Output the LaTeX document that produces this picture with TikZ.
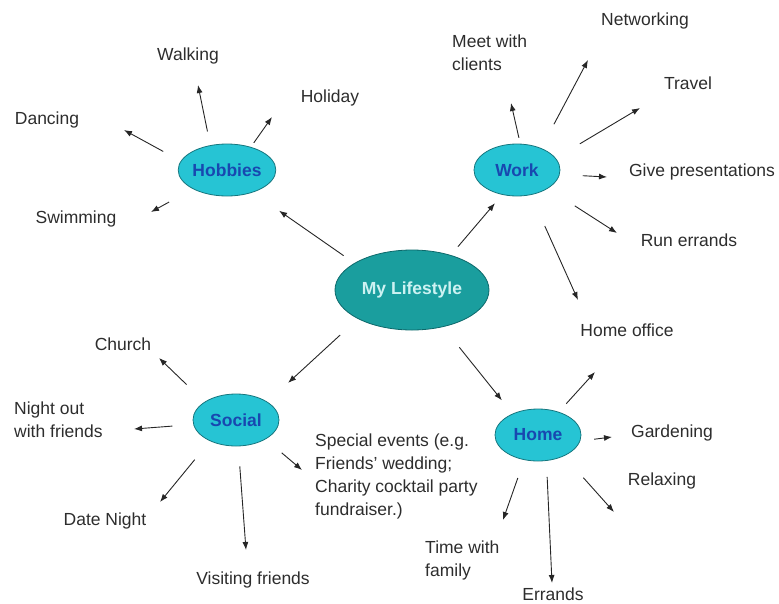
\documentclass[tikz,border=0pt]{standalone}
\usepackage{fontspec}
\setmainfont{Liberation Sans}
\usetikzlibrary{arrows.meta, shapes.geometric}

\definecolor{hubfill}{RGB}{26,158,158}
\definecolor{hubline}{RGB}{12,104,106}
\definecolor{hubtext}{RGB}{205,242,242}
\definecolor{topicfill}{RGB}{38,196,212}
\definecolor{topicline}{RGB}{22,118,126}
\definecolor{topictext}{RGB}{24,72,176}
\definecolor{labeltext}{RGB}{45,45,45}

\tikzset{
  hub/.style={ellipse, draw=hubline, fill=hubfill, line width=0.8pt, inner sep=0pt,
    minimum width=154pt, minimum height=80pt, text=hubtext,
    font=\bfseries\fontsize{17.5}{20}\selectfont},
  topic/.style={ellipse, draw=topicline, fill=topicfill, line width=0.8pt, inner sep=0pt,
    minimum width=86pt, minimum height=52pt, text=topictext,
    font=\bfseries\fontsize{17.5}{20}\selectfont},
  lbl/.style={inner sep=0pt, text=labeltext, font=\fontsize{17.5}{23}\selectfont},
  arr/.style={-{Latex[length=8pt,width=6pt]}, line width=0.9pt, draw=black!85},
}

\begin{document}
\begin{tikzpicture}[x=1pt, y=-1pt]
    \useasboundingbox (0,0) rectangle (779,603);

    % Centre and the four topics
    \node[hub] (life) at (412,290) {My Lifestyle};
    \node[topic] (hobbies) at (227,170) {Hobbies};
    \node[topic] (work) at (517,170) {Work};
    \node[topic] (social) at (236,420) {Social};
    \node[topic] (home) at (538,435) {Home};

    % Hobbies labels
    \node[lbl] (walking) at (188,56) {Walking};
    \node[lbl] (holiday) at (330,98) {Holiday};
    \node[lbl] (dancing) at (47,120) {Dancing};
    \node[lbl] (swimming) at (76,219) {Swimming};

    % Work labels
    \node[lbl, align=left, anchor=west] (clients) at (452,53) {Meet with\\clients};
    \node[lbl] (networking) at (645,21) {Networking};
    \node[lbl] (travel) at (688,83) {Travel};
    \node[lbl] (presentations) at (702,172) {Give presentations};
    \node[lbl] (runerrands) at (689,240) {Run errands};
    \node[lbl] (homeoffice) at (627,330) {Home office};

    % Social labels
    \node[lbl] (church) at (123,344) {Church};
    \node[lbl, align=left, anchor=west] (nightout) at (14,420) {Night out\\with friends};
    \node[lbl] (datenight) at (105,521) {Date Night};
    \node[lbl] (visiting) at (253,580) {Visiting friends};
    \node[lbl, align=left, anchor=west] (special) at (315,476)
        {Special events (e.g.\\Friends' wedding;\\Charity cocktail party\\fundraiser.)};

    % Home labels
    \node[lbl] (gardening) at (672,433) {Gardening};
    \node[lbl] (relaxing) at (662,481) {Relaxing};
    \node[lbl, align=left, anchor=west] (family) at (425,560) {Time with\\family};
    \node[lbl] (errands) at (553,594) {Errands};

    % Arrow tips
    \coordinate (walk-tip) at (198,85);
    \coordinate (holi-tip) at (272,117);
    \coordinate (danc-tip) at (124,130);
    \coordinate (swim-tip) at (151,212);
    \coordinate (meet-tip) at (511,103);
    \coordinate (netw-tip) at (588,60);
    \coordinate (trav-tip) at (640,108);
    \coordinate (pres-tip) at (607,177);
    \coordinate (runs-tip) at (617,233);
    \coordinate (offi-tip) at (578,300);
    \coordinate (chur-tip) at (159,358);
    \coordinate (nigh-tip) at (134,429);
    \coordinate (date-tip) at (160,502);
    \coordinate (visi-tip) at (246,550);
    \coordinate (spec-tip) at (302,470);
    \coordinate (hoff-tip) at (595,372);
    \coordinate (gard-tip) at (612,437);
    \coordinate (rela-tip) at (614,512);
    \coordinate (fami-tip) at (503,520);
    \coordinate (erra-tip) at (552,583);

    % Centre to topics
    \draw[arr, shorten <=13pt, shorten >=32pt] (life.155) -- (hobbies.-41);
    \draw[arr, shorten <=11pt, shorten >=11pt] (life.42) -- (work.239);
    \draw[arr, shorten <=24pt, shorten >=28pt] (life.208) -- (social.30);
    \draw[arr, shorten <=26pt, shorten >=17pt] (life.-50) -- (home.140);

    % Hobbies
    \draw[arr, shorten <=14pt] (hobbies.124) -- (walk-tip);
    \draw[arr, shorten <=5pt] (hobbies.44) -- (holi-tip);
    \draw[arr, shorten <=20pt] (hobbies.169) -- (danc-tip);
    \draw[arr, shorten <=27pt] (hobbies.209) -- (swim-tip);

    % Work
    \draw[arr, shorten <=6pt] (work.83) -- (meet-tip);
    \draw[arr, shorten <=27pt] (work.42) -- (netw-tip);
    \draw[arr, shorten <=28pt] (work.17) -- (trav-tip);
    \draw[arr, shorten <=23pt] (work.-6) -- (pres-tip);
    \draw[arr, shorten <=32pt] (work.-31) -- (runs-tip);
    \draw[arr, shorten <=34pt] (work.-61) -- (offi-tip);

    % Social
    \draw[arr, shorten <=25pt] (social.150) -- (chur-tip);
    \draw[arr, shorten <=21pt] (social.186) -- (nigh-tip);
    \draw[arr, shorten <=24pt] (social.219) -- (date-tip);
    \draw[arr, shorten <=20pt] (social.-85) -- (visi-tip);
    \draw[arr, shorten <=21pt] (social.-33) -- (spec-tip);

    % Home
    \draw[arr, shorten <=11pt] (home.48) -- (hoff-tip);
    \draw[arr, shorten <=14pt] (home.-8) -- (gard-tip);
    \draw[arr, shorten <=29pt] (home.-39) -- (rela-tip);
    \draw[arr, shorten <=19pt] (home.241) -- (fami-tip);
    \draw[arr, shorten <=16pt] (home.-72) -- (erra-tip);
\end{tikzpicture}
\end{document}
